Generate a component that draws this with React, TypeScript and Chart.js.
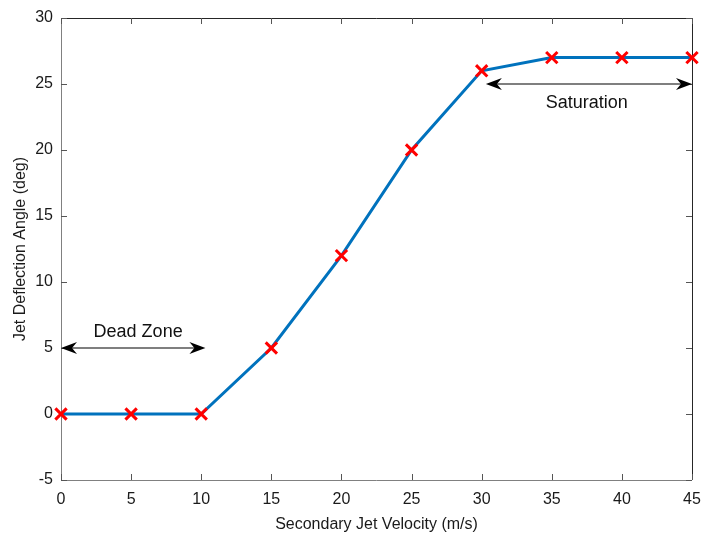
import React, { useEffect, useRef } from "react";
import { Chart, registerables } from "chart.js";

Chart.register(...registerables);

const velocities = [0, 5, 10, 15, 20, 25, 30, 35, 40, 45];
const angles = [0, 0, 0, 5, 12, 20, 26, 27, 27, 27];
const xTicks = [0, 5, 10, 15, 20, 25, 30, 35, 40, 45];
const yTicks = [-5, 0, 5, 10, 15, 20, 25, 30];
const deadZoneArrow = { x0: 0, x1: 10.3, y: 5, label: "Dead Zone", labelX: 5.5, labelY: 6.2 };
const saturationArrow = { x0: 30.3, x1: 45, y: 25, label: "Saturation", labelX: 37.5, labelY: 23.55 };

const FONT = "Liberation Sans, Arial, sans-serif";

function drawArrowHead(ctx: CanvasRenderingContext2D, x: number, y: number, dir: number) {
  ctx.beginPath();
  ctx.moveTo(x, y);
  ctx.lineTo(x - dir * 16, y - 6);
  ctx.lineTo(x - dir * 11, y);
  ctx.lineTo(x - dir * 16, y + 6);
  ctx.closePath();
  ctx.fill();
}

const framePlugin = {
  id: "frame",
  beforeDatasetsDraw(chart: any) {
    const ctx = chart.ctx as CanvasRenderingContext2D;
    const { left, right, top, bottom } = chart.chartArea;
    const xs = chart.scales.x;
    const ys = chart.scales.y;
    ctx.save();
    ctx.lineWidth = 1;
    ctx.strokeStyle = "#262626";
    ctx.beginPath();
    ctx.moveTo(left, top + 0.5);
    ctx.lineTo(right + 0.5, top + 0.5);
    ctx.lineTo(right + 0.5, bottom);
    ctx.stroke();
    ctx.strokeStyle = "#808080";
    ctx.beginPath();
    ctx.moveTo(left + 0.5, top);
    ctx.lineTo(left + 0.5, bottom + 0.5);
    ctx.lineTo(right, bottom + 0.5);
    ctx.stroke();
    const tl = 6;
    ctx.strokeStyle = "#555";
    ctx.beginPath();
    for (const v of xTicks) {
      const px = Math.round(xs.getPixelForValue(v)) + 0.5;
      ctx.moveTo(px, bottom);
      ctx.lineTo(px, bottom - tl);
      ctx.moveTo(px, top);
      ctx.lineTo(px, top + tl);
    }
    for (const v of yTicks) {
      const py = Math.round(ys.getPixelForValue(v)) + 0.5;
      ctx.moveTo(left, py);
      ctx.lineTo(left + tl, py);
      ctx.moveTo(right, py);
      ctx.lineTo(right - tl, py);
    }
    ctx.stroke();
    ctx.restore();
  },
  afterDatasetsDraw(chart: any) {
    const ctx = chart.ctx as CanvasRenderingContext2D;
    const xs = chart.scales.x;
    const ys = chart.scales.y;
    ctx.save();
    ctx.strokeStyle = "#000";
    ctx.lineWidth = 1.2;
    for (const a of [deadZoneArrow, saturationArrow]) {
      const x0 = xs.getPixelForValue(a.x0);
      const x1 = xs.getPixelForValue(a.x1);
      const y = ys.getPixelForValue(a.y);
      ctx.fillStyle = "#000";
      ctx.beginPath();
      ctx.moveTo(x0 + 8, y);
      ctx.lineTo(x1 - 8, y);
      ctx.stroke();
      drawArrowHead(ctx, x0, y, -1);
      drawArrowHead(ctx, x1, y, 1);
      ctx.font = `18px ${FONT}`;
      ctx.textAlign = "center";
      ctx.textBaseline = "middle";
      ctx.fillStyle = "#111";
      ctx.fillText(a.label, xs.getPixelForValue(a.labelX), ys.getPixelForValue(a.labelY));
    }
    ctx.restore();
  },
};

export default function App() {
  const ref = useRef<HTMLCanvasElement>(null);
  useEffect(() => {
    if (!ref.current) return;
    const chart = new Chart(ref.current, {
      type: "line",
      data: {
        datasets: [
          {
            data: velocities.map((v, i) => ({ x: v, y: angles[i] })),
            borderColor: "#0072BD",
            borderWidth: 3,
            pointStyle: "cross",
            rotation: 45,
            pointRadius: 8,
            pointBorderWidth: 3,
            pointBorderColor: "#FF0000",
            pointBackgroundColor: "#FF0000",
            tension: 0,
            clip: false,
          } as any,
        ],
      },
      options: {
        animation: false,
        responsive: false,
        layout: { padding: { top: 18, right: 10, left: 0, bottom: 0 } },
        plugins: { legend: { display: false }, tooltip: { enabled: false } },
        scales: {
          x: {
            type: "linear",
            min: 0,
            max: 45,
            afterBuildTicks: (s: any) => {
              s.ticks = xTicks.map((v) => ({ value: v }));
            },
            afterFit: (s: any) => {
              s.height = 54;
              s.paddingLeft = 0;
              s.paddingRight = 0;
            },
            grid: { display: false, drawTicks: false },
            border: { display: false },
            ticks: { color: "#1a1a1a", font: { family: FONT, size: 16 }, padding: 10, maxRotation: 0 },
            title: {
              display: true,
              text: "Secondary Jet Velocity (m/s)",
              color: "#1a1a1a",
              font: { family: FONT, size: 16 },
              padding: { top: 2, bottom: 0 },
            },
          },
          y: {
            type: "linear",
            min: -5,
            max: 30,
            afterBuildTicks: (s: any) => {
              s.ticks = yTicks.map((v) => ({ value: v }));
            },
            afterFit: (s: any) => {
              s.width = 61;
              s.paddingTop = 0;
              s.paddingBottom = 0;
            },
            grid: { display: false, drawTicks: false },
            border: { display: false },
            ticks: { color: "#1a1a1a", font: { family: FONT, size: 16 }, padding: 8 },
            title: {
              display: true,
              text: "Jet Deflection Angle (deg)",
              color: "#1a1a1a",
              font: { family: FONT, size: 16 },
              padding: { top: 11, bottom: 0 },
            },
          },
        },
      },
      plugins: [framePlugin],
    });
    return () => chart.destroy();
  }, []);
  return (
    <div style={{ position: "fixed", left: 0, top: 0, width: 703, height: 534, background: "#fff" }}>
      <canvas ref={ref} width={703} height={534} style={{ width: 703, height: 534 }} />
    </div>
  );
}
